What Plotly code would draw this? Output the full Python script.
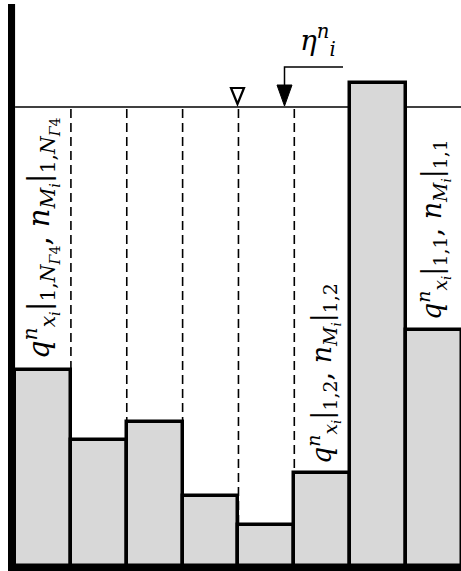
import plotly.graph_objects as go

# ---- data ----
cells = [0, 1, 2, 3, 4, 5, 6, 7]                 # grid cell index
bed_height = [196, 126, 144, 70, 41, 93, 483, 236]  # column heights (arbitrary units)
water_level = 459
dashed_cells = [1, 2, 3, 4, 5]                   # cell boundaries with dashed lines

W, H = 461, 571
X0, X1 = -0.27, 7.985
Y0, Y1 = -5, 566
sx = W / (X1 - X0)

def px2x(px):
    return X0 + px / sx

def py2y(py):
    return Y1 - py * (Y1 - Y0) / H

fig = go.Figure()
fig.add_trace(go.Bar(
    x=[c + 0.5 for c in cells], y=bed_height, width=1,
    marker=dict(color="#d8d8d8", line=dict(color="black", width=3.5)),
    hoverinfo="skip", showlegend=False,
))

shapes = []
shapes.append(dict(type="line", x0=0, x1=X1, y0=water_level, y1=water_level,
                   line=dict(color="black", width=1.5), layer="below"))
for c in dashed_cells:
    shapes.append(dict(type="line", x0=c, x1=c, y0=0, y1=water_level,
                       line=dict(color="black", width=1.6, dash="9px,5px"), layer="below"))
shapes.append(dict(type="rect", x0=px2x(8), x1=0, y0=Y0, y1=py2y(4),
                   fillcolor="black", line=dict(width=0), layer="above"))
shapes.append(dict(type="rect", x0=px2x(8), x1=X1, y0=Y0, y1=0.5,
                   fillcolor="black", line=dict(width=0), layer="above"))

def path(pts, close=False):
    s = "M " + " L ".join(f"{px2x(a)},{py2y(b)}" for a, b in pts)
    return s + (" Z" if close else "")

shapes.append(dict(type="path", path=path([(343, 67), (284.5, 67), (284.5, 86)]),
                   line=dict(color="black", width=1.5)))
shapes.append(dict(type="path", path=path([(277, 85), (292, 85), (284.5, 106)], True),
                   fillcolor="black", line=dict(color="black", width=1)))
shapes.append(dict(type="path", path=path([(231, 88), (244, 88), (237.5, 104)], True),
                   fillcolor="white", line=dict(color="black", width=2.2)))

def up(s):
    return f'<span style="font-style:normal">{s}</span>'

def fnt(size):
    return dict(family="DejaVu Serif", size=size, color="black", style="italic")

qx = "q<sup>n</sup><sub>x<sub>i</sub></sub>"
nm = "n<sub>M<sub>i</sub></sub>"
ng = f"{up('1,')}N<sub>Γ{up('4')}</sub>"
bar = up("|")
lab1 = f"{qx}{bar}<sub>{ng}</sub>{up(', ')}{nm}{bar}<sub>{ng}</sub>"
lab2 = f"{qx}{bar}<sub>{up('1,2')}</sub>{up(', ')}{nm}{bar}<sub>{up('1,2')}</sub>"
lab3 = f"{qx}{bar}<sub>{up('1,1')}</sub>{up(', ')}{nm}{bar}<sub>{up('1,1')}</sub>"
annotations = [
    dict(x=px2x(40), y=py2y(238), text=lab1, textangle=-90, showarrow=False, font=fnt(29)),
    dict(x=px2x(323), y=py2y(374), text=lab2, textangle=-90, showarrow=False, font=fnt(27)),
    dict(x=px2x(433), y=py2y(230), text=lab3, textangle=-90, showarrow=False, font=fnt(27)),
    dict(x=px2x(318), y=py2y(40), text="η<sup>n</sup><sub>i</sub>",
         showarrow=False, font=fnt(28)),
]

fig.update_layout(
    width=W, height=H, margin=dict(l=0, r=0, t=0, b=0),
    paper_bgcolor="white", plot_bgcolor="white",
    xaxis=dict(range=[X0, X1], visible=False, fixedrange=True),
    yaxis=dict(range=[Y0, Y1], visible=False, fixedrange=True),
    shapes=shapes, annotations=annotations, bargap=0,
)
fig.write_html("out.html")
